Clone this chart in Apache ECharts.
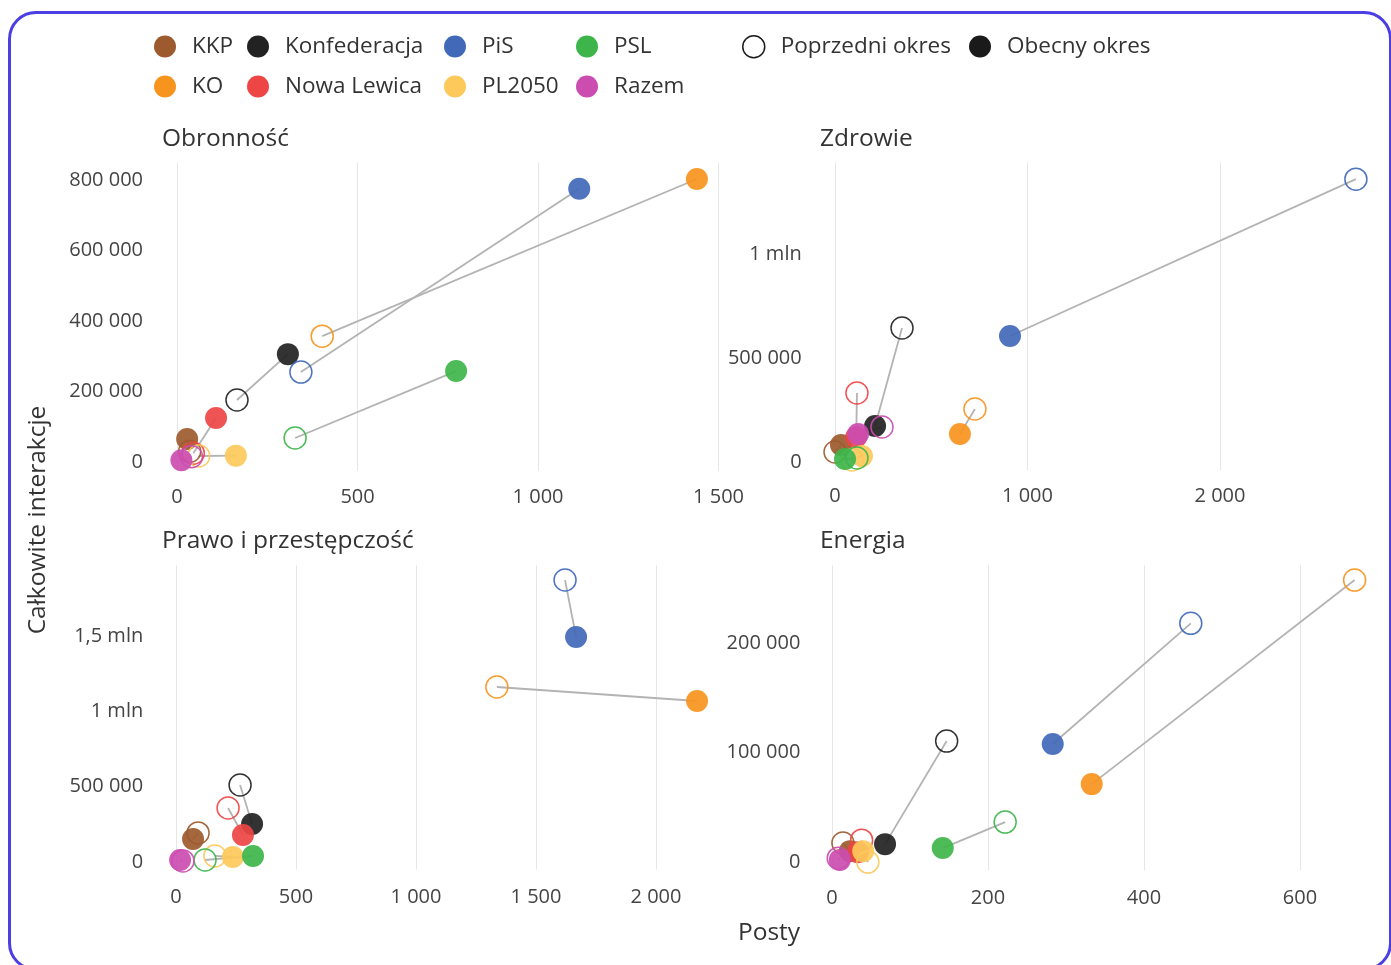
<!DOCTYPE html>
<html>
<head>
<meta charset="utf-8">
<script src="https://cdn.jsdelivr.net/npm/echarts@6/dist/echarts.min.js"></script>
<style>
  html, body { margin: 0; padding: 0; background: #fff; }
  #frame {
    position: absolute; left: 8px; top: 11px; width: 1378px; height: 954px;
    border: 3px solid #4b3fe4; border-radius: 28px;
  }
  #chart { position: absolute; left: 0; top: 0; width: 1391px; height: 965px; }
</style>
</head>
<body>
<div id="frame"></div>
<div id="chart"></div>
<script>
// partie i kolory
const parties = ['KKP', 'KO', 'Konfederacja', 'Nowa Lewica', 'PiS', 'PL2050', 'PSL', 'Razem']
const partyColors = ['#9c5a2e', '#f7941e', '#222222', '#ee4545', '#4169b8', '#fdc95a', '#3db54a', '#cc4db0']

// tematy (kolejność paneli)
const topics = ['Obronność', 'Zdrowie', 'Prawo i przestępczość', 'Energia']

// Obronność
const defPostsPrev = [35, 402, 166, 45, 343, 60, 327, 40]
const defIntPrev = [30000, 357000, 176000, 25000, 255000, 17000, 68000, 15000]
const defPostsNow = [28, 1440, 307, 108, 1114, 163, 773, 12]
const defIntNow = [65000, 803000, 306000, 125000, 775000, 18000, 258000, 5000]

// Zdrowie
const healthPostsPrev = [0, 727, 348, 114, 2706, 88, 114, 244]
const healthIntPrev = [48000, 255000, 644000, 332000, 1360000, 10000, 19000, 168000]
const healthPostsNow = [31, 649, 208, 110, 909, 140, 52, 120]
const healthIntNow = [82000, 135000, 173000, 120000, 606000, 29000, 14000, 135000]

// Prawo i przestępczość
const lawPostsPrev = [92, 1337, 267, 217, 1621, 162, 121, 29]
const lawIntPrev = [193000, 1162000, 511000, 358000, 1872000, 40000, 13000, 7000]
const lawPostsNow = [71, 2171, 317, 279, 1667, 237, 321, 17]
const lawIntNow = [153000, 1069000, 252000, 179000, 1494000, 33000, 40000, 13000]

// Energia
const energyPostsPrev = [14, 670, 147, 38, 460, 46, 222, 8]
const energyIntPrev = [17400, 257500, 110500, 20000, 218000, 0, 36500, 3600]
const energyPostsNow = [23, 333, 68, 33, 283, 40, 142, 10]
const energyIntNow = [10000, 71200, 16400, 9000, 107800, 10000, 12800, 2000]

// podziałki osi
const xTicks1 = [0, 500, 1000, 1500]
const yTicks1 = [0, 200000, 400000, 600000, 800000]
const xTicks2 = [0, 1000, 2000]
const yTicks2 = [0, 500000, 1000000]
const xTicks3 = [0, 500, 1000, 1500, 2000]
const yTicks3 = [0, 500000, 1000000, 1500000]
const xTicks4 = [0, 200, 400, 600]
const yTicks4 = [0, 100000, 200000]

const panels = [
    [defPostsPrev, defIntPrev, defPostsNow, defIntNow],
    [healthPostsPrev, healthIntPrev, healthPostsNow, healthIntNow],
    [lawPostsPrev, lawIntPrev, lawPostsNow, lawIntNow],
    [energyPostsPrev, energyIntPrev, energyPostsNow, energyIntNow]
]
const xTicks = [xTicks1, xTicks2, xTicks3, xTicks4]
const yTicks = [yTicks1, yTicks2, yTicks3, yTicks4]

// układ paneli (px) i zakresy osi
const grids = [
    { left: 159, top: 162.4, width: 563.2, height: 308.4 },
    { left: 817.7, top: 162.5, width: 556.3, height: 307.8 },
    { left: 159.2, top: 565.3, width: 562.8, height: 304.2 },
    { left: 816.4, top: 565.3, width: 557.7, height: 305 }
]
const xRanges = [[-50, 1510], [-90, 2800], [-70, 2275], [-20, 695]]
const yRanges = [[-25000, 850000], [-40000, 1440000], [-50000, 1970000], [-7500, 271000]]
const titlePos = [[162, 127], [820, 127], [162, 529], [820, 529]]
const xLabelMargin = [16, 16, 18, 18]

const FONT = "'Open Sans', 'Noto Sans', sans-serif"

function fmt(v) {
    if (v >= 1000000) {
        return String(v / 1000000).replace('.', ',') + ' mln'
    }
    return String(v).replace(/\B(?=(\d{3})+(?!\d))/g, ' ')
}

let xAxis = [], yAxis = [], series = [], title = []
panels.forEach(function (p, i) {
    title.push({
        text: topics[i], left: titlePos[i][0], top: titlePos[i][1], padding: 0,
        textStyle: { fontFamily: FONT, fontSize: 24.5, fontWeight: 'normal', color: '#333' }
    })
    xAxis.push({
        type: 'value', gridIndex: i, min: xRanges[i][0], max: xRanges[i][1],
        axisLine: { show: false },
        axisTick: { show: false, customValues: xTicks[i] },
        axisLabel: { customValues: xTicks[i], formatter: fmt, color: '#444', fontSize: 20, fontFamily: FONT, margin: xLabelMargin[i] },
        splitLine: { show: true, lineStyle: { color: '#e6e6e6', width: 1 } }
    })
    yAxis.push({
        type: 'value', gridIndex: i, min: yRanges[i][0], max: yRanges[i][1],
        axisLine: { show: false },
        axisTick: { show: false, customValues: yTicks[i] },
        axisLabel: { customValues: yTicks[i], formatter: fmt, color: '#444', fontSize: 20, fontFamily: FONT, margin: 16 },
        splitLine: { show: false }
    })
    parties.forEach(function (name, k) {
        let prev = [p[0][k], p[1][k]]
        let now = [p[2][k], p[3][k]]
        series.push({
            type: 'line', xAxisIndex: i, yAxisIndex: i, silent: true,
            symbol: 'none', z: 2,
            lineStyle: { color: '#b3b3b3', width: 1.8 },
            data: [prev, now]
        })
        series.push({
            name: name, type: 'scatter', xAxisIndex: i, yAxisIndex: i,
            symbolSize: 22, z: 3,
            itemStyle: { color: partyColors[k], opacity: 0.92 },
            data: [
                { value: prev, itemStyle: { color: 'rgba(255,255,255,0)', borderColor: partyColors[k], borderWidth: 1.5 } },
                { value: now }
            ]
        })
    })
})

// serie tylko dla legendy okresów
series.push({ name: 'Poprzedni okres', type: 'scatter', data: [], itemStyle: { color: '#fff', borderColor: '#1a1a1a', borderWidth: 1.5, opacity: 1 } })
series.push({ name: 'Obecny okres', type: 'scatter', data: [], itemStyle: { color: '#1a1a1a', opacity: 1 } })

function legendCol(names, left, extra) {
    return {
        orient: 'vertical', left: left, top: 35, padding: 0,
        itemWidth: 22, itemHeight: 22, itemGap: 17, icon: 'circle',
        textStyle: { fontFamily: FONT, fontSize: 22.5, color: '#333', padding: [0, 0, 0, 11], lineHeight: 22 },
        data: names.map(function (n) {
            let k = parties.indexOf(n)
            if (k >= 0) {
                return { name: n, itemStyle: { color: partyColors[k], borderWidth: 0, opacity: 1 } }
            }
            return extra ? Object.assign({ name: n }, extra) : { name: n }
        })
    }
}

let legend = [
    legendCol(['KKP', 'KO'], 154),
    legendCol(['Konfederacja', 'Nowa Lewica'], 247),
    legendCol(['PiS', 'PL2050'], 444),
    legendCol(['PSL', 'Razem'], 576),
    legendCol(['Poprzedni okres'], 742, { itemStyle: { color: '#fff', borderColor: '#1a1a1a', borderWidth: 1.5, opacity: 1 } }),
    legendCol(['Obecny okres'], 969, { itemStyle: { color: '#1a1a1a', borderWidth: 0, opacity: 1 } })
]

let myChart = echarts.init(document.getElementById('chart'))
myChart.setOption({
    animation: false,
    title: title,
    legend: legend,
    grid: grids,
    xAxis: xAxis,
    yAxis: yAxis,
    series: series,
    graphic: [
        {
            type: 'text', x: 38, y: 520, rotation: Math.PI / 2,
            style: { text: 'Całkowite interakcje', fontFamily: FONT, fontSize: 24.5, fill: '#333', align: 'center', verticalAlign: 'middle' }
        },
        {
            type: 'text', x: 769, y: 933,
            style: { text: 'Posty', fontFamily: FONT, fontSize: 24.5, fill: '#333', align: 'center', verticalAlign: 'middle' }
        }
    ]
})
</script>
</body>
</html>
